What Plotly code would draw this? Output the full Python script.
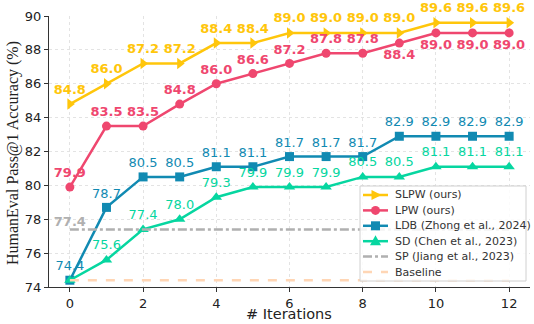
import plotly.graph_objects as go

iters = list(range(13))
slpw = [84.8, 86.0, 87.2, 87.2, 88.4, 88.4, 89.0, 89.0, 89.0, 89.0, 89.6, 89.6, 89.6]
lpw = [79.9, 83.5, 83.5, 84.8, 86.0, 86.6, 87.2, 87.8, 87.8, 88.4, 89.0, 89.0, 89.0]
ldb = [74.4, 78.7, 80.5, 80.5, 81.1, 81.1, 81.7, 81.7, 81.7, 82.9, 82.9, 82.9, 82.9]
sd = [74.4, 75.6, 77.4, 78.0, 79.3, 79.9, 79.9, 79.9, 80.5, 80.5, 81.1, 81.1, 81.1]
sp = [77.4] * 13
baseline = [74.4] * 13

names = ["SLPW (ours)", "LPW (ours)", "LDB (Zhong et al., 2024)",
         "SD (Chen et al., 2023)", "SP (Jiang et al., 2023)", "Baseline"]

C_SLPW = "#FFC60B"
C_LPW = "#EF476F"
C_LDB = "#118AB2"
C_SD = "#06D6A0"
C_SP = "#B0B0B0"
C_BASE = "#FFD6B5"

W, H = 534, 324
ML, MR, MT, MB = 49, 4, 16, 37
PW, PH = W - ML - MR, H - MT - MB


def px(xp):
    return (xp - ML) / PW


def py(yp):
    return (H - MB - yp) / PH


def fmt(v):
    return f"{v:.1f}"


fig = go.Figure()

fig.add_trace(go.Scatter(
    x=iters, y=slpw, name=names[0], mode="lines+markers+text", cliponaxis=False,
    line=dict(color=C_SLPW, width=2.5),
    marker=dict(symbol="triangle-right", size=10, color=C_SLPW),
    text=[fmt(v) for v in slpw], textposition="top center",
    textfont=dict(color=C_SLPW, size=13, family="DejaVu Sans", weight="bold"),
))

lpw_pos = ["top center"] * 9 + ["bottom center"] * 4
fig.add_trace(go.Scatter(
    x=iters, y=lpw, name=names[1], mode="lines+markers+text", cliponaxis=False,
    line=dict(color=C_LPW, width=2.5),
    marker=dict(symbol="circle", size=9, color=C_LPW),
    text=[fmt(v) for v in lpw], textposition=lpw_pos,
    textfont=dict(color=C_LPW, size=13, family="DejaVu Sans", weight="bold"),
))

fig.add_trace(go.Scatter(
    x=iters, y=ldb, name=names[2], mode="lines+markers+text", cliponaxis=False,
    line=dict(color=C_LDB, width=2.5),
    marker=dict(symbol="square", size=9, color=C_LDB),
    text=[fmt(v) for v in ldb], textposition="top center",
    textfont=dict(color=C_LDB, size=13, family="DejaVu Sans"),
))

sd_text = [""] + [fmt(v) for v in sd[1:]]
fig.add_trace(go.Scatter(
    x=iters, y=sd, name=names[3], mode="lines+markers+text", cliponaxis=False,
    line=dict(color=C_SD, width=2.5),
    marker=dict(symbol="triangle-up", size=10, color=C_SD),
    text=sd_text, textposition="top center",
    textfont=dict(color=C_SD, size=13, family="DejaVu Sans"),
))

sp_text = [fmt(sp[0])] + [""] * 12
fig.add_trace(go.Scatter(
    x=iters, y=sp, name=names[4], mode="lines+text", cliponaxis=False,
    line=dict(color=C_SP, width=2.5, dash="dashdot"),
    text=sp_text, textposition="top center",
    textfont=dict(color=C_SP, size=13, family="DejaVu Sans", weight="bold"),
))

fig.add_trace(go.Scatter(
    x=iters, y=baseline, name=names[5], mode="lines",
    line=dict(color=C_BASE, width=2.5, dash="dash"),
))

# ---- manual legend (matplotlib-like compact box) ----
shapes = []
annotations = []
box_x0, box_x1, box_y0, box_y1 = 360, 526, 186, 281
shapes.append(dict(type="rect", xref="paper", yref="paper", layer="above",
                   x0=px(box_x0), x1=px(box_x1), y0=py(box_y1), y1=py(box_y0),
                   line=dict(color="#D0D0D0", width=1), fillcolor="rgba(255,255,255,0.85)"))
row0, step = 195, 15.4
lx0, lx1, lm = 363, 388, 375.5
styles = [
    (C_SLPW, "solid", "tri-right"),
    (C_LPW, "solid", "circle"),
    (C_LDB, "solid", "square"),
    (C_SD, "solid", "tri-up"),
    (C_SP, "dashdot", None),
    (C_BASE, "dash", None),
]
for i, (name, (col, dash, mk)) in enumerate(zip(names, styles)):
    yy = row0 + i * step
    shapes.append(dict(type="line", xref="paper", yref="paper", layer="above",
                       x0=px(lx0), x1=px(lx1), y0=py(yy), y1=py(yy),
                       line=dict(color=col, width=2.5, dash=dash)))
    common = dict(xref="paper", yref="paper", layer="above", xsizemode="pixel", ysizemode="pixel",
                  xanchor=px(lm), yanchor=py(yy), fillcolor=col, line=dict(color=col, width=0))
    if mk == "circle":
        shapes.append(dict(type="circle", x0=-4.5, x1=4.5, y0=-4.5, y1=4.5, **common))
    elif mk == "square":
        shapes.append(dict(type="rect", x0=-4.5, x1=4.5, y0=-4.5, y1=4.5, **common))
    elif mk == "tri-right":
        shapes.append(dict(type="path", path="M -4,-5 L 6,0 L -4,5 Z", **common))
    elif mk == "tri-up":
        shapes.append(dict(type="path", path="M -5.5,-4 L 5.5,-4 L 0,6 Z", **common))
    annotations.append(dict(xref="paper", yref="paper", x=px(393), y=py(yy),
                            xanchor="left", yanchor="middle", showarrow=False, text=name,
                            font=dict(size=11, family="DejaVu Sans", color="#333333")))

# axis titles
annotations.append(dict(xref="paper", yref="paper", x=px(13), y=py(153), textangle=-90,
                        xanchor="center", yanchor="middle", showarrow=False,
                        text="HumanEval Pass@1 Accuracy (%)",
                        font=dict(size=16, family="Liberation Serif", color="#222222")))
annotations.append(dict(xref="paper", yref="paper", x=px(289), y=py(324),
                        xanchor="center", yanchor="bottom", showarrow=False,
                        text="# Iterations",
                        font=dict(size=14.5, family="DejaVu Sans", color="#222222")))

fig.update_layout(
    width=W, height=H,
    margin=dict(l=ML, r=MR, t=MT, b=MB, autoexpand=False),
    plot_bgcolor="white", paper_bgcolor="white",
    font=dict(family="DejaVu Sans", color="#222222"),
    showlegend=False,
    shapes=shapes, annotations=annotations,
)

fig.update_xaxes(
    range=[-0.57, 12.57], tickmode="array", tickvals=[0, 2, 4, 6, 8, 10, 12],
    showgrid=True, gridcolor="#E3E3E3", griddash="dot", gridwidth=1,
    showline=True, linecolor="#333333", linewidth=1.2,
    ticks="outside", ticklen=4, tickcolor="#333333",
    tickfont=dict(size=13, family="DejaVu Sans", color="#222222"),
    ticklabelstandoff=0,
    automargin=False, zeroline=False,
)
fig.update_yaxes(
    range=[74, 90], tickmode="array", tickvals=[74, 76, 78, 80, 82, 84, 86, 88, 90],
    showgrid=True, gridcolor="#E3E3E3", griddash="dot", gridwidth=1,
    showline=True, linecolor="#333333", linewidth=1.2,
    ticks="outside", ticklen=4, tickcolor="#333333",
    tickfont=dict(size=13, family="DejaVu Sans", color="#222222"),
    automargin=False, zeroline=False,
)

fig.write_html("out.html", config={"displayModeBar": False},
               post_script="document.body.style.margin='0';document.body.style.overflow='hidden';")
